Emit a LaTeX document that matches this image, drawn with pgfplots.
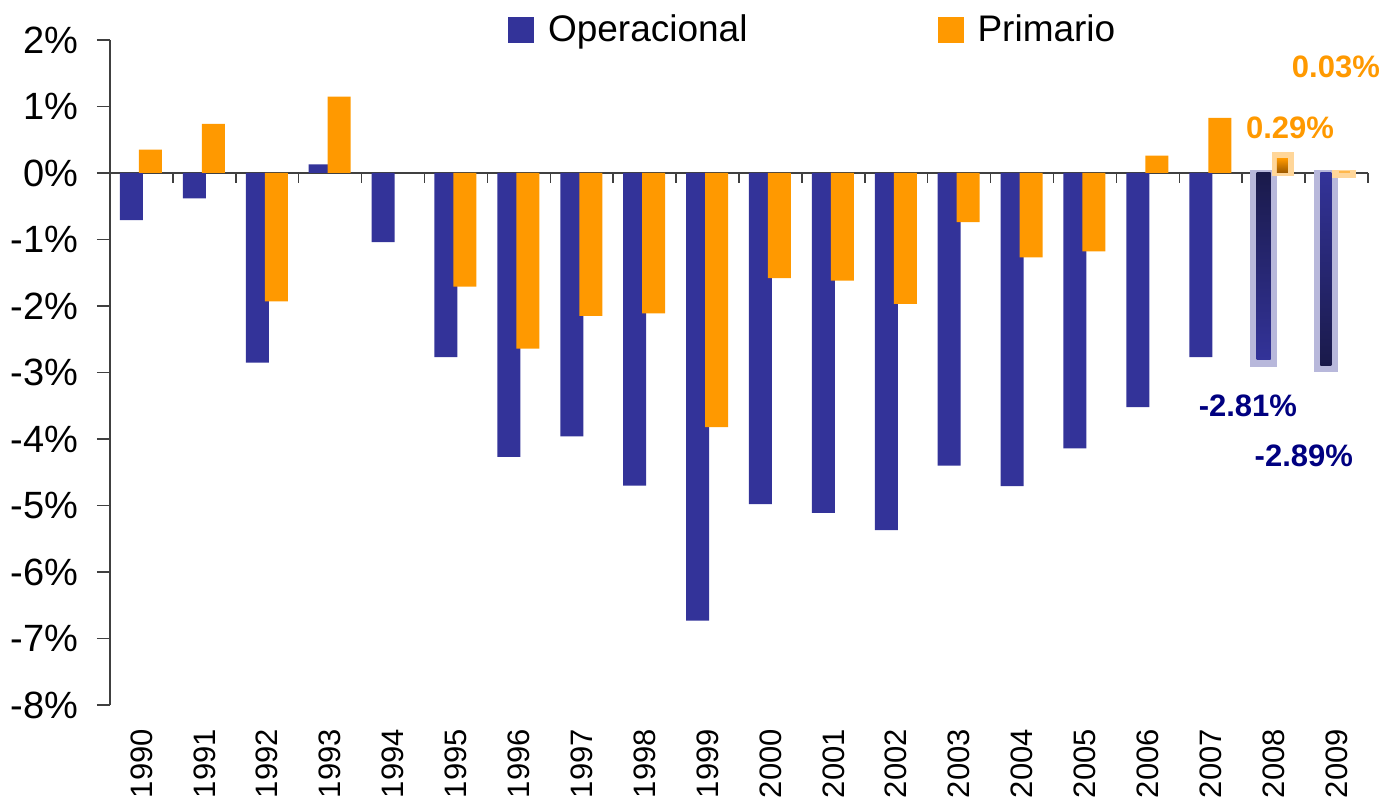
\documentclass[border=0pt]{standalone}
\usepackage{fontspec}
\setmainfont{Liberation Sans}
\usepackage{pgfplots}
\pgfplotsset{compat=1.18}
\definecolor{opblue}{HTML}{333399}
\definecolor{oporange}{HTML}{FF9900}
\definecolor{navylab}{HTML}{000080}
\definecolor{darknavy}{HTML}{1A1A4A}
\definecolor{darkbrown}{HTML}{9A5800}
\definecolor{axisgray}{HTML}{404040}
\begin{document}
\begin{tikzpicture}
\begin{axis}[
  scale only axis, width=629pt, height=332.5pt,
  xmin=-0.5, xmax=19.5, ymin=-8, ymax=2,
  clip=false,
  axis lines*=left,
  x axis line style={draw=none},
  y axis line style={draw=axisgray, line width=0.75pt},
  ytick={-8,-7,-6,-5,-4,-3,-2,-1,0,1,2},
  yticklabels={-8\%,-7\%,-6\%,-5\%,-4\%,-3\%,-2\%,-1\%,0\%,1\%,2\%},
  xtick={0,...,19},
  xticklabels={1990,1991,1992,1993,1994,1995,1996,1997,1998,1999,2000,2001,2002,2003,2004,2005,2006,2007,2008,2009},
  x tick label style={rotate=90, anchor=east, font=\fontsize{15.5}{16}\selectfont, xshift=-2pt},
  y tick label style={font=\fontsize{19}{21}\selectfont, xshift=-6pt},
  tick align=outside,
  ytick pos=left, xtick pos=bottom,
  y tick style={draw=axisgray, line width=0.75pt},
  x tick style={draw=none},
  major tick length=6.5pt,
  legend style={draw=none, fill=none, inner sep=0pt, outer sep=0pt,
    at={(axis description cs:0.3164,1.015)}, anchor=west,
    font=\fontsize{18.5}{20}\selectfont,
    /tikz/every odd column/.append style={column sep=5pt},
    /tikz/every even column/.append style={column sep=93pt}},
  legend columns=2,
]
% zero line and category boundary ticks
\draw[axisgray, line width=0.75pt] (axis cs:-0.5,0) -- (axis cs:19.5,0);
\pgfplotsinvokeforeach{0,...,19}{\draw[axisgray, line width=0.75pt] (axis cs:#1.5,0) -- ++(0pt,-5pt);}

% Operacional 1990-2007
\addplot[ybar, bar width=11.5pt, bar shift=-5pt, fill=opblue, draw=none,
  legend image code/.code={\fill[opblue] (0pt,-6.5pt) rectangle (13pt,6.5pt);}]
  coordinates {(0,-0.71)(1,-0.38)(2,-2.85)(3,0.13)(4,-1.04)(5,-2.77)(6,-4.27)(7,-3.96)(8,-4.70)(9,-6.73)(10,-4.98)(11,-5.11)(12,-5.37)(13,-4.40)(14,-4.71)(15,-4.14)(16,-3.52)(17,-2.77)};
\addlegendentry{Operacional}
% Primario 1990-2007
\addplot[ybar, bar width=11.5pt, bar shift=4.5pt, fill=oporange, draw=none,
  legend image code/.code={\fill[oporange] (0pt,-6.5pt) rectangle (13pt,6.5pt);}]
  coordinates {(0,0.35)(1,0.74)(2,-1.93)(3,1.15)(5,-1.71)(6,-2.64)(7,-2.15)(8,-2.11)(9,-3.82)(10,-1.58)(11,-1.62)(12,-1.97)(13,-0.74)(14,-1.27)(15,-1.18)(16,0.26)(17,0.83)};
\addlegendentry{Primario}

% highlight frames for 2008-2009 (estimates)
\addplot[forget plot, ybar, bar width=13.5pt, bar shift=-5.2pt, fill=opblue!35, draw=none]
  coordinates {(18,-2.92)};
\addplot[forget plot, ybar, bar width=13.5pt, bar shift=-5.2pt, fill=opblue!35, draw=none]
  coordinates {(18,0.05)};
\addplot[forget plot, ybar, bar width=12pt, bar shift=-5.3pt, fill=opblue!35, draw=none]
  coordinates {(19,-2.99)};
\addplot[forget plot, ybar, bar width=12pt, bar shift=-5.3pt, fill=opblue!35, draw=none]
  coordinates {(19,0.05)};
\addplot[forget plot, ybar, bar width=11pt, bar shift=4.5pt, fill=oporange!40, draw=none]
  coordinates {(18,0.32)};
\addplot[forget plot, ybar, bar width=11pt, bar shift=4.5pt, fill=oporange!40, draw=none]
  coordinates {(18,-0.04)};
\addplot[forget plot, ybar, bar width=12pt, bar shift=3.8pt, fill=oporange!40, draw=none]
  coordinates {(19,0.05)};
\addplot[forget plot, ybar, bar width=12pt, bar shift=3.8pt, fill=oporange!40, draw=none]
  coordinates {(19,-0.07)};

% 2008-2009 estimates
\addplot[forget plot, ybar, bar width=7pt, bar shift=-5pt, draw=none, top color=darknavy, bottom color=opblue]
  coordinates {(18,-2.81)};
\addplot[forget plot, ybar, bar width=5.5pt, bar shift=-5.3pt, draw=none, top color=opblue, bottom color=darknavy]
  coordinates {(19,-2.89)};
\addplot[forget plot, ybar, bar width=5.5pt, bar shift=4.3pt, draw=none, top color=oporange, bottom color=darkbrown]
  coordinates {(18,0.22)};
\addplot[forget plot, ybar, bar width=5.5pt, bar shift=3.8pt, draw=none, fill=oporange!70]
  coordinates {(19,0.03)};

% value labels
\node[font=\bfseries\fontsize{15.5}{16}\selectfont, text=oporange] at (axis cs:18.99,1.60) {0.03\%};
\node[font=\bfseries\fontsize{15.5}{16}\selectfont, text=oporange] at (axis cs:18.26,0.68) {0.29\%};
\node[font=\bfseries\fontsize{15.5}{16}\selectfont, text=navylab] at (axis cs:17.59,-3.50) {-2.81\%};
\node[font=\bfseries\fontsize{15.5}{16}\selectfont, text=navylab] at (axis cs:18.48,-4.25) {-2.89\%};
\end{axis}
\pgfresetboundingbox
\path[use as bounding box] (-55pt,-46pt) rectangle (637.5pt,352.5pt);
\end{tikzpicture}
\end{document}
